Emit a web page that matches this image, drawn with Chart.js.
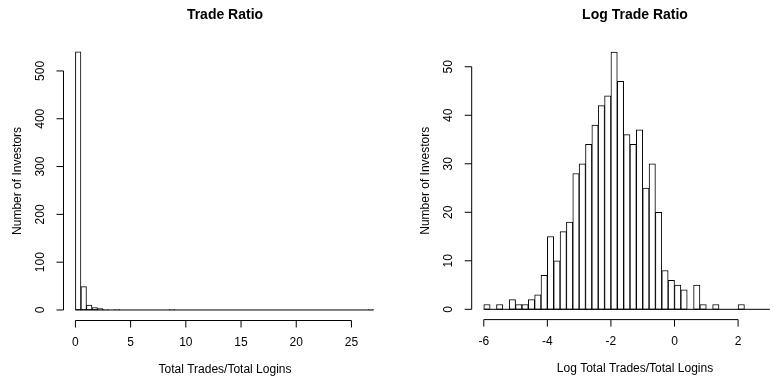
<!DOCTYPE html>
<html>
<head>
<meta charset="utf-8">
<script src="https://cdn.jsdelivr.net/npm/chart.js@4.4.0/dist/chart.umd.min.js"></script>
<style>
body { margin: 0; background: #fff; }
.painel { position: absolute; top: 0; width: 387px; height: 380px; }
</style>
</head>
<body>
<div class="painel" style="left:0"><canvas id="g1" width="387" height="380"></canvas></div>
<div class="painel" style="left:387px"><canvas id="g2" width="387" height="380"></canvas></div>
<script>
// histograma 1: razao (bins de 0.5, de 0 a 27)
const razaoInicio = 0;
const razaoLargura = 0.5;
const razaoContagens = [540, 49, 10, 5, 3, 1, 0, 1, 0, 0, 0, 0, 0, 0, 0, 0, 0, 1,
  0, 0, 0, 0, 0, 0, 0, 0, 0, 0, 0, 0, 0, 0, 0, 0, 0, 0, 0, 0, 0, 0, 0, 0, 0, 0, 0, 0, 0, 0, 0, 0, 0, 0, 0, 1];
const razaoTicksX = [0, 5, 10, 15, 20, 25];
const razaoTicksY = [0, 100, 200, 300, 400, 500];

// histograma 2: log da razao (bins de 0.2, de -6 a 3)
const logInicio = -6;
const logLargura = 0.2;
const logContagens = [1, 0, 1, 0, 2, 1, 1, 2, 3, 7, 15, 10, 16, 18, 28, 30, 34, 38, 42, 44,
  53, 47, 36, 34, 37, 25, 30, 20, 8, 6, 5, 4, 0, 5, 1, 0, 1, 0, 0, 0, 1, 0, 0, 0, 0];
const logTicksX = [-6, -4, -2, 0, 2];
const logTicksY = [0, 10, 20, 30, 40, 50];

const fonte = '"Liberation Sans", Arial, sans-serif';

// desenha os eixos no estilo do R
const eixosR = {
  id: 'eixosR',
  afterDraw(chart, args, o) {
    const ctx = chart.ctx;
    const xs = chart.scales.x;
    const ys = chart.scales.y;
    const area = chart.chartArea;
    ctx.save();
    ctx.strokeStyle = '#000';
    ctx.fillStyle = '#000';
    ctx.lineWidth = 1;

    // linha de base (bins vazios)
    const y0 = ys.getPixelForValue(0);
    ctx.beginPath();
    ctx.moveTo(xs.getPixelForValue(o.inicio), y0);
    ctx.lineTo(xs.getPixelForValue(o.fim), y0);
    ctx.stroke();

    // eixo x
    const yb = area.bottom;
    ctx.beginPath();
    ctx.moveTo(xs.getPixelForValue(o.ticksX[0]), yb);
    ctx.lineTo(xs.getPixelForValue(o.ticksX[o.ticksX.length - 1]), yb);
    o.ticksX.forEach(t => {
      const px = xs.getPixelForValue(t);
      ctx.moveTo(px, yb);
      ctx.lineTo(px, yb + 7);
    });
    ctx.stroke();
    ctx.font = '12px ' + fonte;
    ctx.textAlign = 'center';
    ctx.textBaseline = 'middle';
    o.ticksX.forEach(t => {
      ctx.fillText(String(t), xs.getPixelForValue(t), yb + 22);
    });

    // eixo y
    const xl = area.left;
    ctx.beginPath();
    ctx.moveTo(xl, ys.getPixelForValue(o.ticksY[0]));
    ctx.lineTo(xl, ys.getPixelForValue(o.ticksY[o.ticksY.length - 1]));
    o.ticksY.forEach(t => {
      const py = ys.getPixelForValue(t);
      ctx.moveTo(xl, py);
      ctx.lineTo(xl - 7, py);
    });
    ctx.stroke();
    o.ticksY.forEach(t => {
      ctx.save();
      ctx.translate(xl - 23, ys.getPixelForValue(t));
      ctx.rotate(-Math.PI / 2);
      ctx.fillText(String(t), 0, 0);
      ctx.restore();
    });

    // titulos
    ctx.fillText(o.rotuloX, o.centroX, yb + 49);
    ctx.save();
    ctx.translate(xl - 46, (area.top + area.bottom) / 2);
    ctx.rotate(-Math.PI / 2);
    ctx.fillText(o.rotuloY, 0, 0);
    ctx.restore();
    ctx.font = 'bold 14px ' + fonte;
    ctx.fillText(o.titulo, o.centroX, 15);
    ctx.restore();
  }
};

function gerarHistograma(id, inicio, largura, contagens, cfg) {
  const pontos = contagens.map((c, i) => ({ x: inicio + largura * i + largura / 2, y: c }));
  new Chart(document.getElementById(id), {
    type: 'bar',
    data: {
      datasets: [{
        data: pontos,
        backgroundColor: '#fff',
        borderColor: '#000',
        borderWidth: 1,
        borderSkipped: false,
        barPercentage: 1,
        categoryPercentage: 1
      }]
    },
    options: {
      responsive: false,
      animation: false,
      layout: { padding: cfg.padding },
      plugins: {
        legend: { display: false },
        tooltip: { enabled: false },
        eixosR: {
          inicio: inicio,
          fim: inicio + largura * contagens.length,
          ticksX: cfg.ticksX,
          ticksY: cfg.ticksY,
          titulo: cfg.titulo,
          rotuloX: cfg.rotuloX,
          rotuloY: 'Number of Investors',
          centroX: cfg.centroX
        }
      },
      scales: {
        x: {
          type: 'linear', display: false, offset: false,
          min: cfg.xMin, max: cfg.xMax,
          ticks: { stepSize: cfg.ticksX[1] - cfg.ticksX[0], includeBounds: false }
        },
        y: {
          display: false,
          min: cfg.yMin, max: cfg.yMax
        }
      }
    },
    plugins: [eixosR]
  });
}

gerarHistograma('g1', razaoInicio, razaoLargura, razaoContagens, {
  padding: { left: 63.5, right: 1, top: 41.3, bottom: 59.5 },
  xMin: -1.08, xMax: 28.13, yMin: -22, yMax: 562,
  ticksX: razaoTicksX, ticksY: razaoTicksY,
  titulo: 'Trade Ratio', rotuloX: 'Total Trades/Total Logins', centroX: 225
});

gerarHistograma('g2', logInicio, logLargura, logContagens, {
  padding: { left: 84.7, right: 0, top: 41.9, bottom: 60.4 },
  xMin: -6.38, xMax: 3.13, yMin: -2.12, yMax: 55.12,
  ticksX: logTicksX, ticksY: logTicksY,
  titulo: 'Log Trade Ratio', rotuloX: 'Log Total Trades/Total Logins', centroX: 248
});
</script>
</body>
</html>
